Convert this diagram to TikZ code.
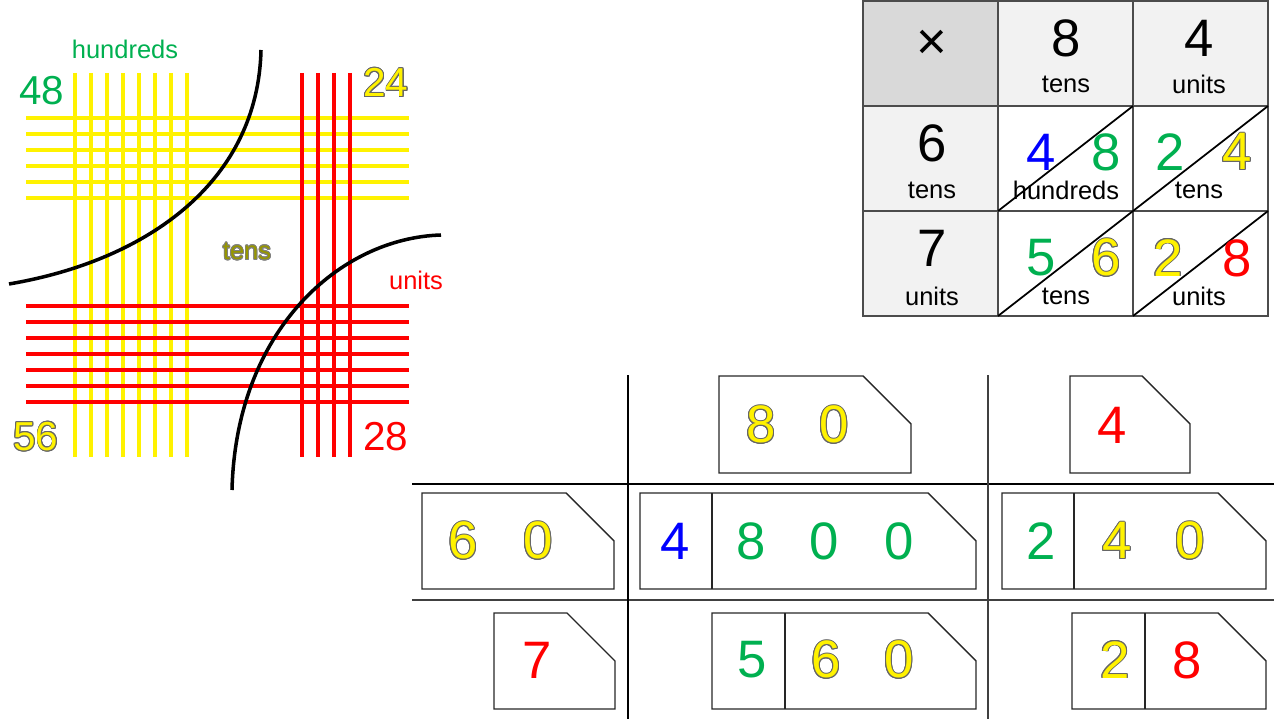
\documentclass[tikz,border=0pt]{standalone}
\usepackage{fontspec}
\setmainfont{Liberation Sans}
\usepackage{xcolor}
\usepackage{tikz}
\usetikzlibrary{positioning,calc}
\usepackage{contour}
\contourlength{0.45pt}
\definecolor{numgreen}{RGB}{0,176,80}
\definecolor{hdrgray}{RGB}{242,242,242}
\definecolor{cornergray}{RGB}{217,217,217}
\definecolor{tensolive}{RGB}{150,150,0}
\newcommand{\ylw}[1]{\contour{black!60}{\textcolor{yellow}{#1}}}
% card outline with the cut top right corner
\newcommand{\card}[4]{\draw[cardline] (#1,#2) -- (#3-48,#2) -- (#3,#2+48) -- (#3,#4) -- (#1,#4) -- cycle;}

\begin{document}
\begin{tikzpicture}[
    x=0.02cm, y=-0.02cm,
    yline/.style={yellow, line width=2.3pt},
    rline/.style={red, line width=2.3pt},
    arc/.style={black, line width=2pt},
    cell/.style={rectangle, draw=black!70, line width=0.8pt, minimum width=2.7cm, minimum height=2.1cm, inner sep=0, outer sep=0},
    diag/.style={black, line width=1pt},
    cardline/.style={black!85, line width=0.8pt},
    bigdigit/.style={inner sep=0, font=\fontsize{30}{30}\selectfont},
    middigit/.style={inner sep=0, font=\fontsize{23}{23}\selectfont},
    lbl/.style={inner sep=0, font=\fontsize{14.5}{14.5}\selectfont}
]
\useasboundingbox (0,0) rectangle (1274,719);

% left: lines
\foreach \y in {118,134,...,198} \draw[yline] (26,\y) -- (409,\y);
\foreach \x in {75,91,...,187} \draw[yline] (\x,73) -- (\x,457);
\foreach \y in {306,322,...,402} \draw[rline] (26,\y) -- (409,\y);
\foreach \x in {302,318,...,350} \draw[rline] (\x,73) -- (\x,457);

\draw[arc] (9,284) .. controls (150,260) and (258,180) .. (261,50);
\draw[arc] (232,490) .. controls (236,330) and (340,238) .. (441,235);

\node[lbl, text=numgreen] (hund) at (125,49) {hundreds};
\node[lbl, text=tensolive] (tensl) at (247,252) {\contour{black!50}{tens}};
\node[lbl, text=red] (unitsl) at (416,280) {units};
\node[middigit, text=numgreen] (n48) at (42,91) {48};
\node[middigit] (n24) at (386,83) {\ylw{24}};
\node[middigit] (n56) at (36,437) {\ylw{56}};
\node[middigit, text=red] (n28) at (386,437) {28};

% top right: grid table
\node[cell, fill=cornergray] (c00) at (930.5,53.5) {};
\node[cell, fill=hdrgray] (c01) at (1065.5,53.5) {};
\node[cell, fill=hdrgray] (c02) at (1200.5,53.5) {};
\node[cell, fill=hdrgray] (c10) at (930.5,158.5) {};
\node[cell, fill=white] (c11) at (1065.5,158.5) {};
\node[cell, fill=white] (c12) at (1200.5,158.5) {};
\node[cell, fill=hdrgray] (c20) at (930.5,263.5) {};
\node[cell, fill=white] (c21) at (1065.5,263.5) {};
\node[cell, fill=white] (c22) at (1200.5,263.5) {};

\foreach \c in {c11,c12,c21,c22} \draw[diag] (\c.south west) -- (\c.north east);

\node[bigdigit] (times) at (932,45) {×};
\node[bigdigit] (h8) at (1066,38) {8};
\node[lbl] (h8l) at (1066,84) {tens};
\node[bigdigit] (h4) at (1199,38) {4};
\node[lbl] (h4l) at (1199,84) {units};
\node[bigdigit] (h6) at (932,143) {6};
\node[lbl] (h6l) at (932,190) {tens};
\node[bigdigit] (h7) at (932,248) {7};
\node[lbl] (h7l) at (932,296) {units};

\node[bigdigit, text=blue] (p48a) at (1041,152) {4};
\node[bigdigit, text=numgreen] (p48b) at (1106,152) {8};
\node[lbl] (p48l) at (1066,190) {hundreds};
\node[bigdigit, text=numgreen] (p24a) at (1170,152) {2};
\node[bigdigit] (p24b) at (1237,152) {\ylw{4}};
\node[lbl] (p24l) at (1199,190) {tens};
\node[bigdigit, text=numgreen] (p56a) at (1041,258) {5};
\node[bigdigit] (p56b) at (1106,258) {\ylw{6}};
\node[lbl] (p56l) at (1066,296) {tens};
\node[bigdigit] (p28a) at (1168,258) {\ylw{2}};
\node[bigdigit, text=red] (p28b) at (1237,258) {8};
\node[lbl] (p28l) at (1199,296) {units};

% bottom: place value cards
\draw[black, line width=1.7pt] (412,484) -- (1274,484);
\draw[black!75, line width=0.9pt] (412,600) -- (1274,600);
\draw[black, line width=1.4pt] (628,375) -- (628,719);
\draw[black!75, line width=0.6pt] (988,375) -- (988,719);

\card{719}{376}{911}{473}
\node[bigdigit] (k80a) at (761,425) {\ylw{8}};
\node[bigdigit] (k80b) at (834,425) {\ylw{0}};
\card{1070}{376}{1190}{473}
\node[bigdigit, text=red] (k4) at (1112,425) {4};

\card{422}{493}{614}{589}
\node[bigdigit] (k60a) at (463,541) {\ylw{6}};
\node[bigdigit] (k60b) at (538,541) {\ylw{0}};
\card{640}{493}{976}{589}
\draw[cardline] (712,493) -- (712,589);
\node[bigdigit, text=blue] (k4800a) at (675,541) {4};
\node[bigdigit, text=numgreen] (k4800b) at (751,541) {8};
\node[bigdigit, text=numgreen] (k4800c) at (824,541) {0};
\node[bigdigit, text=numgreen] (k4800d) at (899,541) {0};
\card{1002}{493}{1266}{589}
\draw[cardline] (1074,493) -- (1074,589);
\node[bigdigit, text=numgreen] (k240a) at (1041,541) {2};
\node[bigdigit] (k240b) at (1117,541) {\ylw{4}};
\node[bigdigit] (k240c) at (1190,541) {\ylw{0}};

\card{494}{613}{615}{709}
\node[bigdigit, text=red] (k7) at (537,660) {7};
\card{712}{613}{976}{709}
\draw[cardline] (785,613) -- (785,709);
\node[bigdigit, text=numgreen] (k560a) at (752,660) {5};
\node[bigdigit] (k560b) at (826,660) {\ylw{6}};
\node[bigdigit] (k560c) at (899,660) {\ylw{0}};
\card{1072}{613}{1266}{709}
\draw[cardline] (1145,613) -- (1145,709);
\node[bigdigit] (k28a) at (1115,660) {\ylw{2}};
\node[bigdigit, text=red] (k28b) at (1187,660) {8};

\end{tikzpicture}
\end{document}
